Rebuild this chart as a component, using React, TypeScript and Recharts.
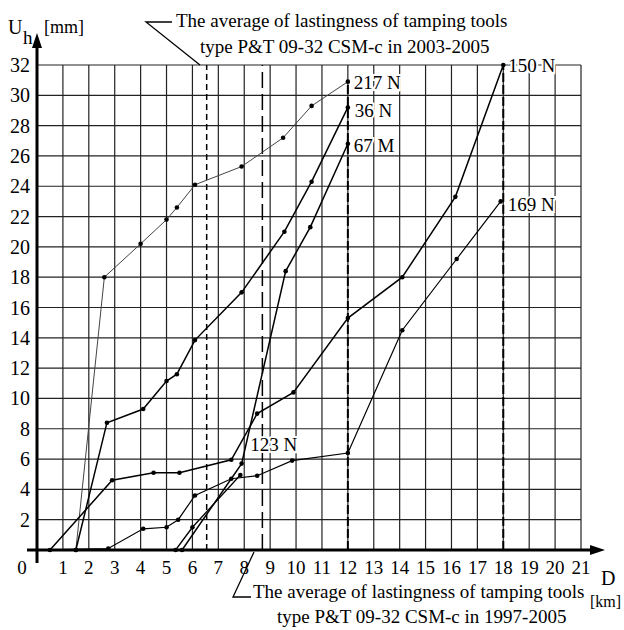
import React from 'react';
import { LineChart, Line, XAxis, YAxis, CartesianGrid, ReferenceLine, ReferenceDot } from 'recharts';

// D [km] ticks and U_h [mm] ticks
const xTicks = [0, 1, 2, 3, 4, 5, 6, 7, 8, 9, 10, 11, 12, 13, 14, 15, 16, 17, 18, 19, 20, 21];
const yTicks = [2, 4, 6, 8, 10, 12, 14, 16, 18, 20, 22, 24, 26, 28, 30, 32];

// measured points [D, Uh] per tamping tool
const s217N = [[0, 0], [1.5, 0], [2.6, 18], [4, 20.2], [5, 21.8], [5.4, 22.6], [6.1, 24.1], [7.9, 25.3], [9.5, 27.2], [10.6, 29.3], [12, 30.9]];
const s36N = [[0, 0], [1.5, 0], [2.7, 8.4], [4.1, 9.3], [5, 11.15], [5.4, 11.6], [6.1, 13.85], [7.9, 17], [9.55, 21], [10.6, 24.3], [12, 29.2]];
const s67M = [[0, 0], [5.6, 0], [7.9, 5.7], [9.6, 18.4], [10.55, 21.3], [12, 26.8]];
const s123N = [[0, 0], [5.35, 0], [6, 1.5], [7.85, 4.95]];
const s150N = [[0, 0], [0.5, 0], [2.9, 4.6], [4.5, 5.1], [5.5, 5.1], [7.5, 5.95], [8.5, 9], [9.9, 10.4], [12, 15.3], [14.1, 18], [16.15, 23.3], [18, 32]];
const s169N = [[0, 0], [2.75, 0.1], [4.1, 1.4], [5, 1.5], [5.45, 2], [6.1, 3.6], [7.5, 4.7], [8.5, 4.9], [9.85, 5.9], [12, 6.4], [14.1, 14.5], [16.2, 19.2], [17.9, 23]];

// averages of lastingness
const avg2003 = 6.55;
const avg1997 = 8.7;

const toPts = (arr: number[][]) => arr.map(([x, y]) => ({ x, y }));

const series = [
  { name: '217 N', data: toPts(s217N), stroke: '#444', width: 1, dx: 6, dy: 7 },
  { name: '36 N', data: toPts(s36N), stroke: '#000', width: 1.5, dx: 7, dy: 10 },
  { name: '67 M', data: toPts(s67M), stroke: '#000', width: 1.5, dx: 6, dy: 8 },
  { name: '123 N', data: toPts(s123N), stroke: '#000', width: 1.3, dx: 10, dy: -24 },
  { name: '150 N', data: toPts(s150N), stroke: '#000', width: 1.5, dx: 5, dy: 7 },
  { name: '169 N', data: toPts(s169N), stroke: '#000', width: 1.2, dx: 7, dy: 10 },
];

const FONT = "'Liberation Serif', 'Times New Roman', 'DejaVu Serif', serif";

const renderDot = (p: any) =>
  p.index === 0 ? <g key={p.key} /> : <circle key={p.key} cx={p.cx} cy={p.cy} r={2.3} fill="#000" />;

const XTick = ({ x, y, payload }: any) => (
  <text x={payload.value === 0 ? x - 15 : x} y={y + 16} textAnchor="middle" fill="#000" style={{ fontFamily: FONT, fontSize: 19 }}>
    {payload.value}
  </text>
);

const YTick = ({ x, y, payload }: any) => (
  <text x={x + 1} y={y + 7} textAnchor="end" fill="#000" style={{ fontFamily: FONT, fontSize: 20 }}>
    {payload.value}
  </text>
);

const T = ({ size = 19, children, ...rest }: any) => (
  <text fill="#000" style={{ fontFamily: FONT, fontSize: size }} {...rest}>
    {children}
  </text>
);

export default function App() {
  const end217 = s217N[s217N.length - 1];
  const end150 = s150N[s150N.length - 1];
  return (
    <div style={{ position: 'absolute', left: 0, top: 0, width: 624, height: 630, background: '#fff', fontFamily: FONT }}>
      <LineChart width={624} height={630} margin={{ top: 65, right: 43, left: 0, bottom: 50 }}>
        <CartesianGrid stroke="#222" strokeWidth={1.2} />
        <XAxis
          dataKey="x"
          type="number"
          domain={[0, 21]}
          ticks={xTicks}
          interval={0}
          height={30}
          axisLine={false}
          tickLine={false}
          tick={<XTick />}
        />
        <YAxis
          type="number"
          domain={[0, 32]}
          ticks={yTicks}
          interval={0}
          width={37}
          axisLine={false}
          tickLine={false}
          tick={<YTick />}
        />
        <ReferenceLine x={avg2003} stroke="#000" strokeWidth={1.5} strokeDasharray="6 4" />
        <ReferenceLine x={avg1997} stroke="#000" strokeWidth={1.5} strokeDasharray="16 6" />
        <ReferenceLine segment={[{ x: end217[0], y: 0 }, { x: end217[0], y: end217[1] }]} stroke="#000" strokeWidth={2} strokeDasharray="9 3" />
        <ReferenceLine segment={[{ x: end150[0], y: 0 }, { x: end150[0], y: end150[1] }]} stroke="#000" strokeWidth={2} strokeDasharray="9 3" />
        {series.map((s) => (
          <Line
            key={s.name}
            data={s.data}
            dataKey="y"
            type="linear"
            stroke={s.stroke}
            strokeWidth={s.width}
            dot={renderDot}
            activeDot={false}
            isAnimationActive={false}
          />
        ))}
        {series.map((s) => {
          const last = s.data[s.data.length - 1];
          return (
            <ReferenceDot
              key={'lbl' + s.name}
              x={last.x}
              y={last.y}
              r={3}
              ifOverflow="visible"
              shape={(p: any) => (
                <T x={p.cx + s.dx} y={p.cy + s.dy} stroke="#fff" strokeWidth={4} paintOrder="stroke">
                  {s.name}
                </T>
              )}
            />
          );
        })}
      </LineChart>
      <svg width={624} height={630} style={{ position: 'absolute', left: 0, top: 0, pointerEvents: 'none' }}>
        {/* axes with arrows */}
        <line x1={27} y1={550} x2={596} y2={550} stroke="#000" strokeWidth={3} />
        <polygon points="590,545 605,550 590,555" fill="#000" />
        <line x1={37} y1={563} x2={37} y2={44} stroke="#000" strokeWidth={3} />
        <polygon points="32,48 37,33 42,48" fill="#000" />
        {/* axis titles */}
        <T x={8} y={34} size={20}>U</T>
        <T x={23} y={44} size={19}>h</T>
        <T x={44} y={33} size={18}>[mm]</T>
        <T x={601} y={585} size={20}>D</T>
        <T x={590} y={607} size={16}>[km]</T>
        {/* annotation 2003-2005 */}
        <polyline points="172,22 146,22 200,65" fill="none" stroke="#000" strokeWidth={1.3} />
        <T x={176} y={27}>The average of lastingness of tamping tools</T>
        <T x={200} y={53}>type P&amp;T 09-32 CSM-c in 2003-2005</T>
        {/* annotation 1997-2005 */}
        <polyline points="254,552 233,597 251,597" fill="none" stroke="#000" strokeWidth={1.3} />
        <T x={253} y={598}>The average of lastingness of tamping tools</T>
        <T x={277} y={623}>type P&amp;T 09-32 CSM-c in 1997-2005</T>
      </svg>
    </div>
  );
}
